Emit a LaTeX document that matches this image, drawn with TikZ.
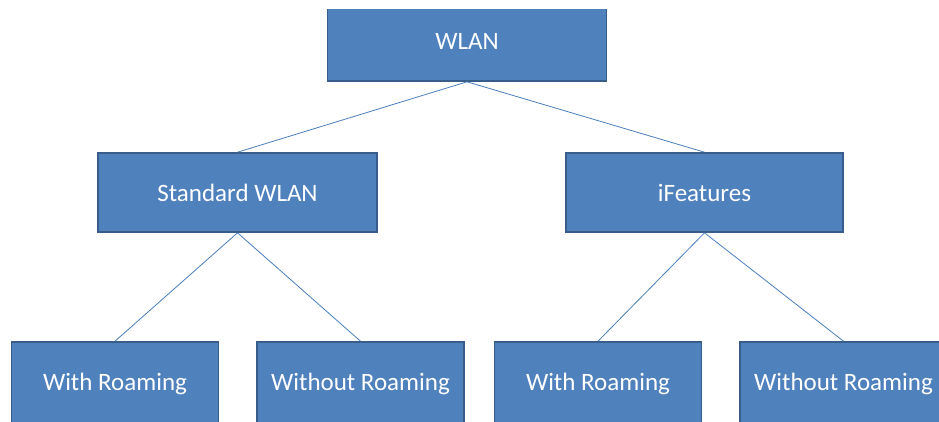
\documentclass[tikz,border=0pt]{standalone}
\usepackage{fontspec}
\setmainfont{Carlito}
\definecolor{boxfill}{HTML}{4F81BD}
\definecolor{boxline}{HTML}{385D8A}
\definecolor{linkcol}{HTML}{4A7EBB}
\begin{document}
\begin{tikzpicture}[x=1pt,y=-1pt,
  box/.style={draw=boxline,line width=1.6pt,fill=boxfill,text=white,
    minimum height=79pt,inner sep=0pt,font=\fontsize{25}{30}\selectfont},
  link/.style={draw=linkcol,line width=0.8pt}]
\useasboundingbox (0,0) rectangle (939,421);
\clip (0,0) rectangle (939,421);
\begin{scope}
\clip (0,9) rectangle (939,421);
\node[box,minimum width=279pt] (wlan) at (467,41.5) {WLAN};
\end{scope}
\node[box,minimum width=279pt] (std) at (237.5,192.5) {Standard WLAN};
\node[box,minimum width=277pt] (ifeat) at (704.5,192.5) {iFeatures};
\node[box,minimum width=207pt,minimum height=84pt] (wr1) at (115,384) {With Roaming};
\node[box,minimum width=207pt,minimum height=84pt] (wo1) at (360.5,384) {Without Roaming};
\node[box,minimum width=207pt,minimum height=84pt] (wr2) at (598,384) {With Roaming};
\node[box,minimum width=207pt,minimum height=84pt] (wo2) at (843.5,384) {Without Roaming};
\draw[link] (wlan.south) -- (std.north);
\draw[link] (wlan.south) -- (ifeat.north);
\draw[link] (std.south) -- (wr1.north);
\draw[link] (std.south) -- (wo1.north);
\draw[link] (ifeat.south) -- (wr2.north);
\draw[link] (ifeat.south) -- (wo2.north);
\end{tikzpicture}
\end{document}
